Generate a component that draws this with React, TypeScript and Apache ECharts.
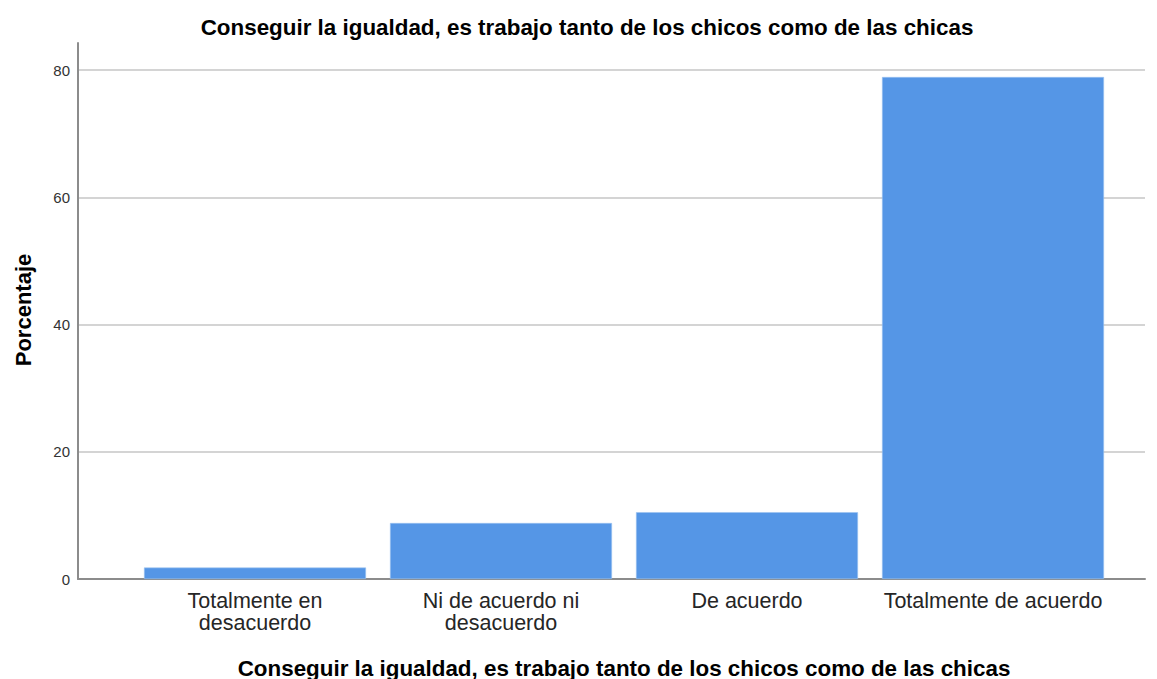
import React, { useEffect, useRef } from "react";
import * as echarts from "echarts";

const TITLE = "Conseguir la igualdad, es trabajo tanto de los chicos como de las chicas";
const Y_NAME = "Porcentaje";
const categories = [
  "Totalmente en\ndesacuerdo",
  "Ni de acuerdo ni\ndesacuerdo",
  "De acuerdo",
  "Totalmente de acuerdo",
];
const percentages = [1.8, 8.8, 10.5, 78.9];
const yTicks = { min: 0, max: 80, interval: 20 };
const yAxisTop = 84.2;

const FONT = '"Liberation Sans", Arial, sans-serif';

export default function App() {
  const ref = useRef<HTMLDivElement>(null);
  useEffect(() => {
    if (!ref.current) return;
    const chart = echarts.init(ref.current, undefined, { renderer: "svg" });
    const zero = 579;
    chart.setOption({
      animation: false,
      backgroundColor: "#ffffff",
      textStyle: { fontFamily: FONT },
      grid: [
        { left: 78, right: 12, top: 43, bottom: 679 - zero },
        { left: 78, right: 12, top: 70, bottom: 679 - zero },
        { left: 132, right: 41, top: 70, bottom: 679 - zero },
      ],
      xAxis: [
        {
          gridIndex: 0,
          type: "value",
          min: 0,
          max: 1,
          axisLine: { show: true, onZero: false, lineStyle: { color: "#8c8c8c", width: 2 } },
          axisTick: { show: false },
          axisLabel: { show: false },
          splitLine: { show: false },
        },
        {
          gridIndex: 1,
          type: "value",
          min: 0,
          max: 1,
          show: false,
        },
        {
          gridIndex: 2,
          type: "category",
          data: categories,
          axisLine: { show: false },
          axisTick: { show: false },
          axisLabel: {
            interval: 0,
            fontSize: 21.5,
            lineHeight: 22,
            margin: 11,
            color: "#262626",
            fontFamily: FONT,
          },
        },
      ],
      yAxis: [
        {
          gridIndex: 0,
          type: "value",
          min: 0,
          max: yAxisTop,
          axisLine: { show: true, lineStyle: { color: "#8c8c8c", width: 2 } },
          axisTick: { show: false },
          axisLabel: { show: false },
          splitLine: { show: false },
        },
        {
          gridIndex: 1,
          type: "value",
          min: yTicks.min,
          max: yTicks.max,
          interval: yTicks.interval,
          axisLine: { show: false },
          axisTick: { show: false },
          axisLabel: { fontSize: 15, margin: 8, color: "#333333", fontFamily: FONT },
          splitLine: {
            show: true,
            showMinLine: false,
            lineStyle: { color: "#d4d4d4", width: 2 },
          },
        },
        {
          gridIndex: 2,
          type: "value",
          min: yTicks.min,
          max: yTicks.max,
          show: false,
        },
      ],
      series: [
        {
          type: "bar",
          xAxisIndex: 2,
          yAxisIndex: 2,
          data: percentages,
          barWidth: 222,
          itemStyle: { color: "#5596e6", borderColor: "#9cc2f0", borderWidth: 0.6 },
          z: 3,
        },
      ],
      graphic: [
        {
          type: "text",
          x: 587,
          y: 27,
          z: 10,
          style: {
            text: TITLE,
            font: `bold 22.4px ${FONT}`,
            fill: "#000000",
            textAlign: "center",
            textVerticalAlign: "middle",
          },
        },
        {
          type: "text",
          x: 624,
          y: 668,
          z: 10,
          style: {
            text: TITLE,
            font: `bold 22.4px ${FONT}`,
            fill: "#000000",
            textAlign: "center",
            textVerticalAlign: "middle",
          },
        },
        {
          type: "text",
          x: 23,
          y: 310,
          rotation: Math.PI / 2,
          z: 10,
          style: {
            text: Y_NAME,
            font: `bold 22px ${FONT}`,
            fill: "#000000",
            textAlign: "center",
            textVerticalAlign: "middle",
          },
        },
      ],
    });
    return () => chart.dispose();
  }, []);
  return (
    <div
      ref={ref}
      style={{ position: "absolute", left: 0, top: 0, width: 1157, height: 679 }}
    />
  );
}
